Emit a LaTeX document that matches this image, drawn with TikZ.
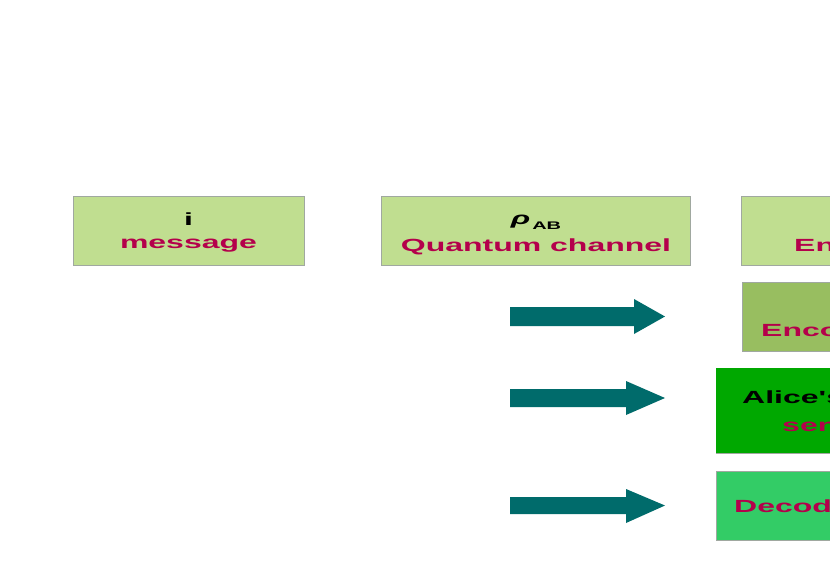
\documentclass[tikz,border=0pt]{standalone}
\usepackage{fontspec}
\usepackage{graphicx}
\setmainfont{Liberation Sans}
\definecolor{paleg}{HTML}{C0DE90}
\definecolor{midg}{HTML}{98BE60}
\definecolor{strongg}{HTML}{00A800}
\definecolor{mintg}{HTML}{33CC66}
\definecolor{wine}{HTML}{B4004B}
\definecolor{tealc}{HTML}{006B6B}
\definecolor{rim}{HTML}{A0A8A0}
\newcommand\wideTxt[1]{\scalebox{2}[1.1]{#1}}
\tikzset{
  boxnode/.style={draw=rim, line width=0.8pt, anchor=north west, inner sep=0pt},
  txt/.style={inner sep=0pt, font=\fontsize{16}{19}\selectfont\bfseries},
  redtxt/.style={txt, text=wine},
  blktxt/.style={txt, text=black},
  barrow/.style={fill=tealc, draw=none}
}
\begin{document}
\begin{tikzpicture}[x=1pt,y=-1pt]
\useasboundingbox (0,0) rectangle (830,581);
\fill[white] (0,0) rectangle (830,581);
\clip (0,0) rectangle (830,581);
% boxes
\node[boxnode, fill=paleg, minimum width=231, minimum height=69] (b1) at (73,196) {};
\node[boxnode, fill=paleg, minimum width=309, minimum height=69] (b2) at (381,196) {};
\node[boxnode, fill=paleg, minimum width=200, minimum height=69] (b3) at (741,196) {};
\node[boxnode, fill=midg, minimum width=200, minimum height=69] (b4) at (742,282) {};
\node[boxnode, draw=none, fill=strongg, minimum width=200, minimum height=85] (b5) at (716,368) {};
\draw[rim, line width=0.8pt] (b5.south west) -- (b5.south east);
\node[boxnode, fill=mintg, minimum width=200, minimum height=69] (b6) at (716,471) {};
% texts
\node[blktxt, anchor=base] (t1a) at (188.5,225.5) {\wideTxt{i}};
\node[redtxt, anchor=base] (t1b) at (188.5,248.5) {\wideTxt{message}};
\node[blktxt, anchor=base] (t2a) at (536,224) {\wideTxt{\textit{ρ}\hspace{1pt}\raisebox{-5pt}{\fontsize{10}{12}\selectfont AB}}};
\node[redtxt, anchor=base] (t2b) at (536,251) {\wideTxt{Quantum channel}};
\node[redtxt, anchor=base west] (t3b) at (794,251) {\wideTxt{Encoding}};
\node[redtxt, anchor=base west] (t4b) at (761,336.5) {\wideTxt{Encoding}};
\node[blktxt, anchor=base west] (t5a) at (742,403.5) {\wideTxt{Alice\textquotesingle s}};
\node[redtxt, anchor=base west] (t5b) at (782,431.5) {\wideTxt{sends}};
\node[redtxt, anchor=base west] (t6b) at (734,512.5) {\wideTxt{Decoding}};
% block arrows
\coordinate (a1) at (510,316.5);
\coordinate (a2) at (510,398);
\coordinate (a3) at (510,505.5);
\fill[barrow] (a1) ++(0,-9.5) -- ++(124,0) -- ++(0,-8) -- (665,316.5) -- (634,334) -- (634,326) -- (510,326) -- cycle;
\fill[barrow] (a2) ++(0,-9) -- ++(116,0) -- ++(0,-8) -- (665,398) -- (626,415) -- (626,407) -- (510,407) -- cycle;
\fill[barrow] (a3) ++(0,-8.5) -- ++(116,0) -- ++(0,-8) -- (665,505.5) -- (626,523) -- (626,514) -- (510,514) -- cycle;
\end{tikzpicture}
\end{document}
